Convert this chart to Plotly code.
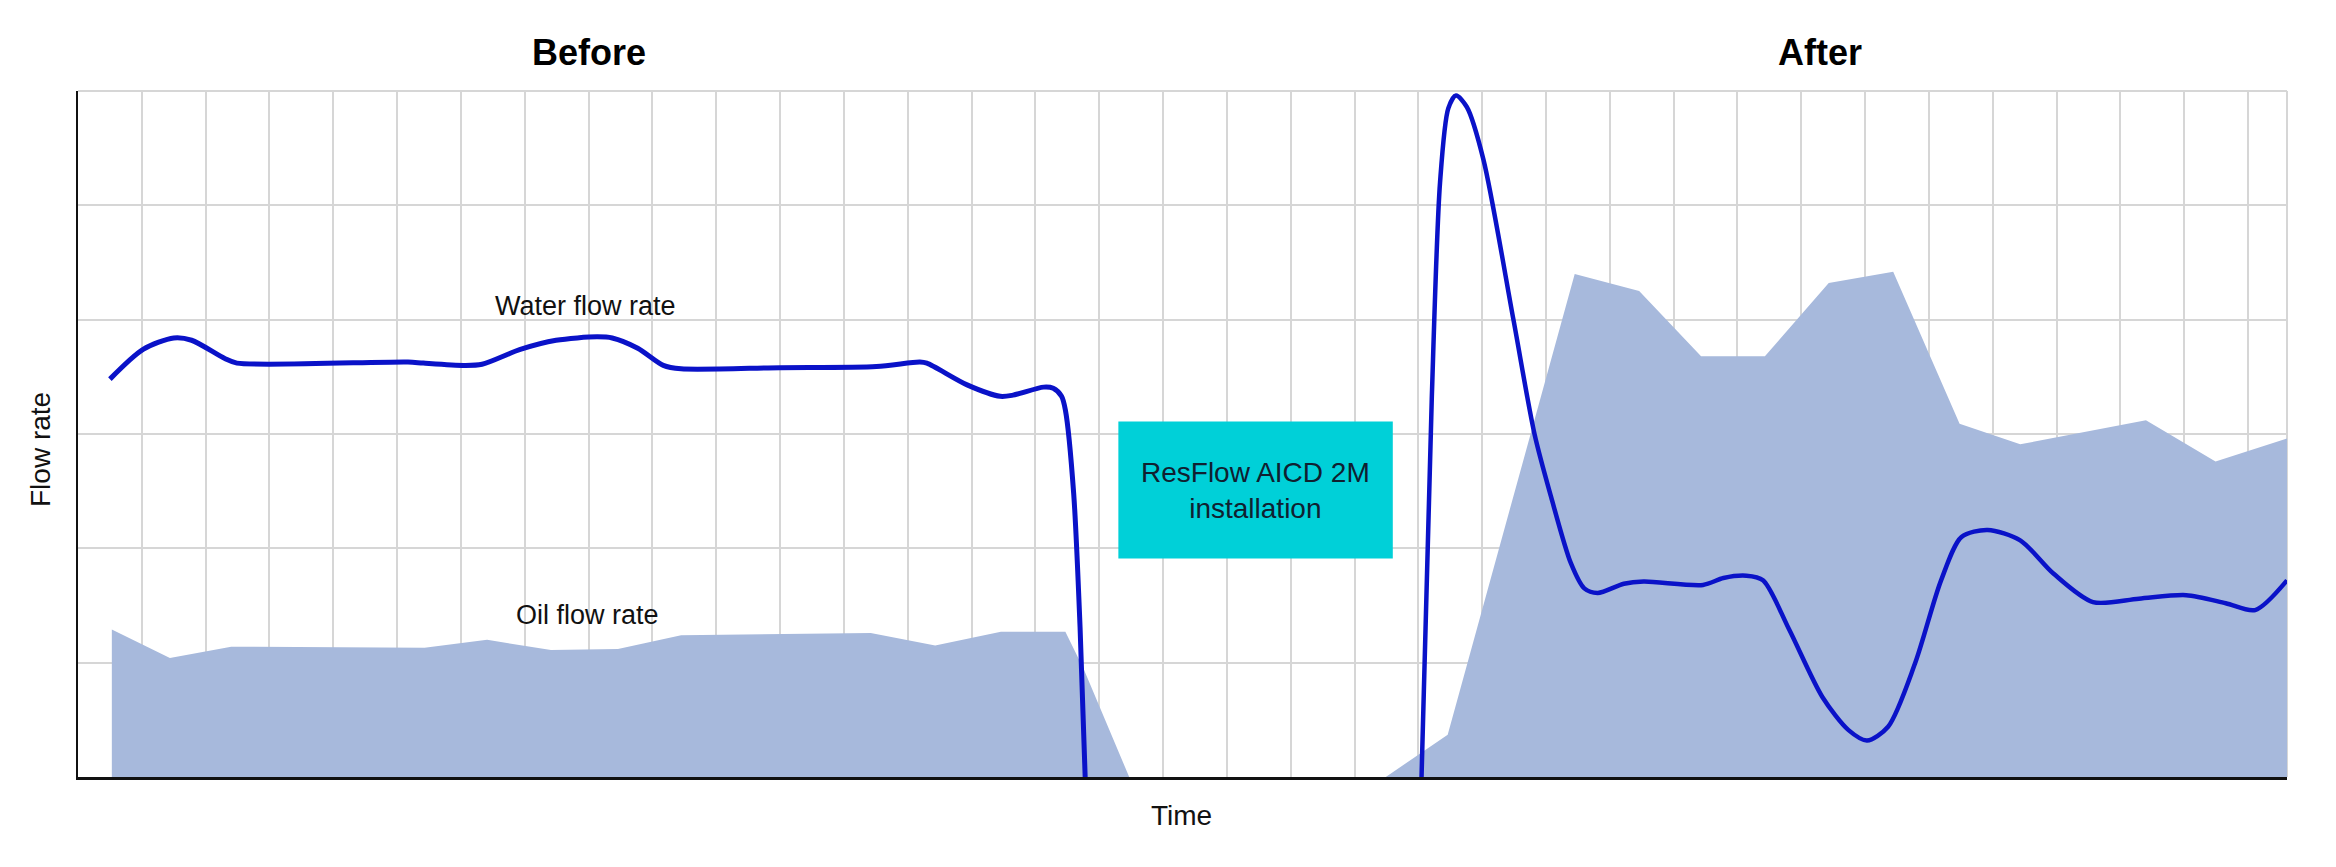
import plotly.graph_objects as go

# ---- data (x in time-grid units, y in flow-rate grid units) ----
water_before_x = [0.50, 1.02, 1.50, 1.78, 2.30, 2.49, 5.17, 5.41, 6.05, 6.33, 6.93, 7.49, 8.13, 8.37,
                  8.77, 9.17, 9.45, 11.0, 12.51, 13.19, 13.30, 13.93, 14.45, 14.65, 15.13, 15.28,
                  15.41, 15.47, 15.60, 15.70, 15.78]
water_before_y = [3.48, 3.74, 3.84, 3.82, 3.66, 3.62, 3.63, 3.62, 3.60, 3.61, 3.74, 3.82, 3.85, 3.84,
                  3.75, 3.60, 3.57, 3.58, 3.59, 3.63, 3.62, 3.43, 3.33, 3.34, 3.41, 3.40,
                  3.33, 3.21, 2.48, 1.31, 0.0]

water_after_x = [21.05, 21.21, 21.34, 21.47, 21.59, 21.76, 22.02, 22.49, 22.82, 23.08, 23.39,
                 23.60, 23.81, 24.22, 24.53, 25.46, 25.78, 26.14, 26.40, 26.81, 27.33, 27.74, 28.03,
                 28.36, 28.78, 29.19, 29.51, 29.92, 30.43, 30.95, 31.57, 32.29, 33.03, 33.65, 34.11, 34.61]
water_after_y = [0.0, 3.30, 5.20, 5.85, 5.96, 5.86, 5.40, 4.00, 3.00, 2.45, 1.87,
                 1.65, 1.61, 1.69, 1.71, 1.68, 1.74, 1.76, 1.72, 1.29, 0.70, 0.41, 0.32,
                 0.44, 0.99, 1.72, 2.10, 2.16, 2.07, 1.78, 1.53, 1.56, 1.59, 1.52, 1.46, 1.72]

oil_x = [0.53, 1.44, 2.40, 5.43, 6.41, 7.41, 8.46, 9.45, 12.42, 13.43, 14.46, 15.47, 15.76, 16.47,
         20.49, 21.46, 23.45, 24.46, 25.43, 26.43, 27.43, 28.44, 29.48, 30.43, 32.40, 33.49, 34.61]
oil_y = [1.29, 1.04, 1.14, 1.13, 1.20, 1.11, 1.12, 1.24, 1.26, 1.15, 1.27, 1.27, 0.94, 0.0,
         0.0, 0.37, 4.40, 4.25, 3.68, 3.68, 4.32, 4.42, 3.09, 2.91, 3.12, 2.76, 2.96]

X_MAX = 34.61
Y_MAX = 6

labels = {
    "before": "Before",
    "after": "After",
    "water": "Water flow rate",
    "oil": "Oil flow rate",
    "box": "ResFlow AICD 2M<br>installation",
    "xtitle": "Time",
    "ytitle": "Flow rate",
}

FONT = "Liberation Sans, Arial, sans-serif"
LINE_COLOR = "#0a12c8"
OIL_COLOR = "#a7b9dc"
GRID = "#d6d6d6"

fig = go.Figure()

fig.add_trace(go.Scatter(x=oil_x, y=oil_y, mode="lines", fill="tozeroy",
                         fillcolor=OIL_COLOR, line=dict(width=0, color=OIL_COLOR),
                         hoverinfo="skip", showlegend=False))
fig.add_trace(go.Scatter(x=water_before_x, y=water_before_y, mode="lines",
                         line=dict(color=LINE_COLOR, width=5, shape="spline", smoothing=0.8),
                         showlegend=False))
fig.add_trace(go.Scatter(x=water_after_x, y=water_after_y, mode="lines",
                         line=dict(color=LINE_COLOR, width=4.5, shape="spline", smoothing=0.8),
                         showlegend=False))

# installation box
fig.add_shape(type="rect", xref="x", yref="y", x0=16.30, x1=20.60, y0=1.91, y1=3.11,
              fillcolor="#00d0d8", line=dict(width=0), layer="above")
# top and right border lines
fig.add_shape(type="line", xref="paper", yref="paper", x0=0, x1=1, y0=1, y1=1,
              line=dict(color=GRID, width=2), layer="below")
fig.add_shape(type="line", xref="paper", yref="paper", x0=1, x1=1, y0=0, y1=1,
              line=dict(color=GRID, width=2), layer="below")

PW, PH = 2209, 686  # plot area size in px
ann = []
ann.append(dict(x=18.45, y=2.51, xref="x", yref="y", text=labels["box"], showarrow=False,
                font=dict(family=FONT, size=28, color="#102030")))
ann.append(dict(x=7.95, y=4.12, xref="x", yref="y", text=labels["water"], showarrow=False,
                font=dict(family=FONT, size=27, color="#111111")))
ann.append(dict(x=7.99, y=1.42, xref="x", yref="y", text=labels["oil"], showarrow=False,
                font=dict(family=FONT, size=27, color="#111111")))
ann.append(dict(x=8.0, y=1 + (91 - 52) / PH, xref="x", yref="paper", text="<b>" + labels["before"] + "</b>",
                showarrow=False, font=dict(family=FONT, size=36, color="#000000")))
ann.append(dict(x=27.3, y=1 + (91 - 52) / PH, xref="x", yref="paper", text="<b>" + labels["after"] + "</b>",
                showarrow=False, font=dict(family=FONT, size=36, color="#000000")))
ann.append(dict(x=(1181 - 78) / PW, y=(777 - 815) / PH, xref="paper", yref="paper", text=labels["xtitle"],
                showarrow=False, font=dict(family=FONT, size=28, color="#111111")))
ann.append(dict(x=(40 - 78) / PW, y=(777 - 450) / PH, xref="paper", yref="paper", text=labels["ytitle"],
                textangle=-90, showarrow=False, font=dict(family=FONT, size=28, color="#111111")))
for a in ann:
    a["xanchor"] = "center"
    a["yanchor"] = "middle"

# page body has an 8px margin, so the figure is offset by 8px
fig.update_layout(
    width=2320, height=851,
    margin=dict(l=70, r=41, t=83, b=82),
    paper_bgcolor="white", plot_bgcolor="white",
    annotations=ann,
    xaxis=dict(range=[0, X_MAX], tick0=0, dtick=1, showgrid=True, gridcolor=GRID, gridwidth=2,
               showticklabels=False, ticks="", zeroline=False, showline=True,
               linecolor="#111111", linewidth=3),
    yaxis=dict(range=[0, Y_MAX], tick0=0, dtick=1, showgrid=True, gridcolor=GRID, gridwidth=2,
               showticklabels=False, ticks="", zeroline=False, showline=True,
               linecolor="#111111", linewidth=2),
    showlegend=False,
)

fig.write_html("out.html")
